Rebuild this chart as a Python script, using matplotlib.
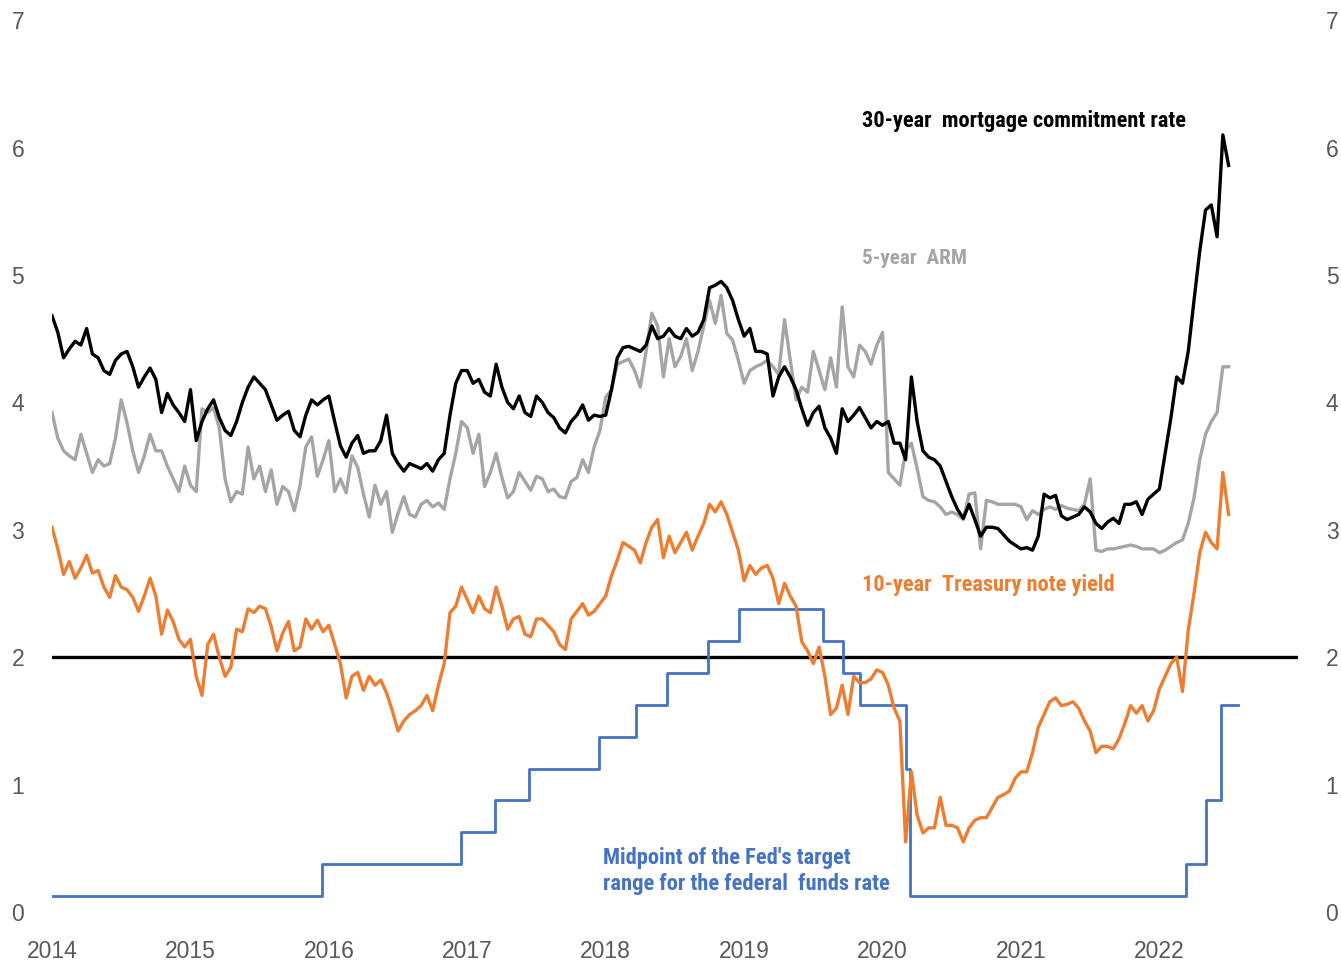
import matplotlib
matplotlib.use("Agg")
import matplotlib.pyplot as plt
from matplotlib import font_manager as fm
import numpy as np

# semi-monthly readings, Jan 2014 - Jul 2022 (24 per year)
mortgage_30y = [
    4.68,4.55,4.35,4.42,4.48,4.45,4.58,4.38,4.35,4.25,4.22,4.33,4.38,4.40,4.28,4.12,4.20,4.27,4.18,3.92,4.07,3.98,3.92,3.85,
    4.10,3.70,3.85,3.95,4.02,3.88,3.78,3.74,3.85,4.00,4.12,4.20,4.15,4.10,3.98,3.86,3.90,3.93,3.78,3.73,3.90,4.02,3.98,4.02,
    4.05,3.85,3.66,3.57,3.68,3.74,3.60,3.62,3.62,3.70,3.90,3.60,3.52,3.46,3.52,3.50,3.48,3.52,3.46,3.55,3.60,3.90,4.15,4.25,
    4.25,4.15,4.18,4.08,4.05,4.30,4.12,4.00,3.95,4.05,3.92,3.89,4.05,4.00,3.92,3.88,3.80,3.76,3.85,3.90,3.98,3.86,3.90,3.89,
    3.90,4.10,4.35,4.43,4.44,4.42,4.40,4.45,4.60,4.50,4.52,4.58,4.52,4.50,4.58,4.52,4.55,4.65,4.90,4.92,4.95,4.90,4.80,4.65,
    4.52,4.58,4.40,4.40,4.38,4.05,4.20,4.28,4.20,4.10,3.95,3.82,3.92,3.97,3.80,3.72,3.60,3.95,3.85,3.90,3.96,3.88,3.80,3.85,
    3.82,3.85,3.68,3.68,3.55,4.20,3.85,3.62,3.57,3.55,3.50,3.38,3.26,3.16,3.09,3.20,3.08,2.95,3.02,3.02,3.01,2.96,2.91,2.88,
    2.85,2.86,2.84,2.95,3.28,3.25,3.27,3.11,3.08,3.10,3.12,3.18,3.14,3.05,3.01,3.06,3.09,3.05,3.20,3.20,3.22,3.12,3.24,3.28,
    3.32,3.60,3.88,4.20,4.15,4.40,4.80,5.19,5.51,5.55,5.30,6.10,5.86]

arm_5y = [
    3.92,3.72,3.62,3.58,3.55,3.75,3.60,3.45,3.55,3.50,3.52,3.72,4.02,3.84,3.62,3.45,3.58,3.75,3.62,3.62,3.50,3.40,3.30,3.50,
    3.35,3.30,3.95,3.92,3.96,3.80,3.40,3.22,3.30,3.28,3.65,3.40,3.50,3.30,3.47,3.20,3.34,3.30,3.15,3.35,3.65,3.73,3.42,3.55,
    3.70,3.30,3.40,3.29,3.58,3.49,3.28,3.10,3.35,3.20,3.30,2.98,3.13,3.26,3.12,3.10,3.20,3.23,3.18,3.21,3.16,3.40,3.60,3.85,
    3.80,3.60,3.75,3.34,3.45,3.60,3.41,3.25,3.30,3.45,3.38,3.31,3.42,3.40,3.30,3.32,3.26,3.25,3.38,3.41,3.55,3.45,3.65,3.78,
    4.04,4.10,4.30,4.32,4.34,4.25,4.12,4.40,4.70,4.60,4.20,4.50,4.28,4.36,4.50,4.25,4.40,4.60,4.80,4.62,4.84,4.54,4.49,4.33,
    4.15,4.25,4.28,4.30,4.33,4.28,4.22,4.65,4.33,4.02,4.12,4.08,4.40,4.25,4.10,4.35,4.12,4.75,4.28,4.20,4.45,4.40,4.30,4.45,
    4.55,3.45,3.40,3.35,3.62,3.68,3.48,3.26,3.23,3.22,3.18,3.12,3.14,3.12,3.08,3.28,3.29,2.85,3.23,3.22,3.20,3.20,3.20,3.20,
    3.18,3.08,3.15,3.12,3.16,3.18,3.16,3.19,3.17,3.16,3.15,3.20,3.40,2.84,2.83,2.85,2.85,2.86,2.87,2.88,2.87,2.85,2.85,2.85,
    2.82,2.84,2.87,2.90,2.92,3.05,3.25,3.55,3.75,3.85,3.92,4.28,4.28]

treasury_10y = [
    3.02,2.85,2.65,2.75,2.62,2.70,2.80,2.66,2.68,2.55,2.47,2.64,2.55,2.53,2.47,2.36,2.48,2.62,2.48,2.18,2.37,2.28,2.14,2.08,
    2.14,1.85,1.70,2.10,2.18,2.00,1.85,1.92,2.22,2.20,2.38,2.35,2.40,2.38,2.24,2.05,2.19,2.28,2.05,2.08,2.30,2.22,2.29,2.20,
    2.25,2.10,1.95,1.68,1.85,1.88,1.74,1.85,1.78,1.82,1.72,1.58,1.42,1.50,1.55,1.58,1.62,1.70,1.58,1.78,1.95,2.35,2.40,2.55,
    2.45,2.35,2.48,2.38,2.35,2.55,2.40,2.22,2.30,2.32,2.18,2.16,2.30,2.30,2.25,2.20,2.10,2.06,2.30,2.36,2.42,2.33,2.36,2.42,
    2.48,2.64,2.76,2.90,2.87,2.84,2.74,2.90,3.02,3.08,2.78,2.95,2.82,2.90,2.98,2.84,2.95,3.05,3.20,3.14,3.22,3.12,2.98,2.84,
    2.60,2.72,2.65,2.70,2.72,2.62,2.42,2.58,2.48,2.40,2.12,2.05,1.95,2.08,1.85,1.55,1.60,1.78,1.55,1.85,1.80,1.80,1.83,1.90,
    1.88,1.78,1.60,1.50,0.55,1.10,0.76,0.62,0.66,0.66,0.90,0.68,0.68,0.66,0.55,0.66,0.72,0.74,0.74,0.82,0.90,0.92,0.95,1.05,
    1.10,1.10,1.25,1.45,1.55,1.65,1.68,1.62,1.63,1.65,1.60,1.50,1.42,1.25,1.30,1.30,1.28,1.36,1.48,1.62,1.56,1.62,1.50,1.58,
    1.75,1.85,1.95,2.00,1.73,2.21,2.50,2.82,2.98,2.90,2.85,3.45,3.12]

# Fed funds target midpoint (step changes)
fed_dates = [2014.0, 2015.95, 2016.955, 2017.2, 2017.445, 2017.955, 2018.22, 2018.44, 2018.74,
             2018.965, 2019.57, 2019.715, 2019.835, 2020.17, 2020.2, 2022.195, 2022.34, 2022.447, 2022.57]
fed_vals = [0.125, 0.375, 0.625, 0.875, 1.125, 1.375, 1.625, 1.875, 2.125,
            2.375, 2.125, 1.875, 1.625, 1.125, 0.125, 0.375, 0.875, 1.625, 1.625]

year_ticks = [2014, 2015, 2016, 2017, 2018, 2019, 2020, 2021, 2022]
y_ticks = [0, 1, 2, 3, 4, 5, 6, 7]

def t_axis(series):
    return 2014 + np.arange(len(series)) / 24.0

black = "#000000"
gray = "#A5A5A5"
orange = "#ED7D31"
blue = "#4472C4"

# pick a narrow font if one is installed, else plain Liberation Sans
installed = {f.name for f in fm.fontManager.ttflist}
narrow_font = "Liberation Sans"
for cand in ["Liberation Sans Narrow", "Arial Narrow", "Roboto Condensed", "Open Sans Condensed",
             "Noto Sans Condensed", "DejaVu Sans Condensed"]:
    if cand in installed:
        narrow_font = cand
        break
narrow = [narrow_font, "DejaVu Sans"]

fig = plt.figure(figsize=(13.41, 9.64), dpi=100)
ax = fig.add_axes([0.0388, 0.054, 0.929, 0.925])

ax.axhline(2, color=black, lw=2.4, zorder=1)
ax.plot(fed_dates, fed_vals, drawstyle="steps-post", color=blue, lw=2.0, zorder=2)
ax.plot(t_axis(arm_5y), arm_5y, color=gray, lw=2.4, zorder=3)
ax.plot(t_axis(mortgage_30y), mortgage_30y, color=black, lw=2.4, zorder=4)
ax.plot(t_axis(treasury_10y), treasury_10y, color=orange, lw=2.4, zorder=5)

ax.set_xlim(2014, 2023)
ax.set_ylim(0, 7)
ax.set_xticks(year_ticks)
ax.set_xticklabels([str(y) for y in year_ticks])
ax.set_yticks(y_ticks)
for s in ax.spines.values():
    s.set_visible(False)
ax.tick_params(axis="both", length=0, labelsize=16.5, labelcolor="#595959")
ax.tick_params(axis="y", pad=20, labelright=True)
ax.tick_params(axis="x", pad=20)
for lab in ax.get_yticklabels() + ax.get_xticklabels():
    lab.set_family(["Liberation Sans", "DejaVu Sans"])

labels = [
    (2019.85, 6.21, "30-year  mortgage commitment rate", black, 324),
    (2019.85, 5.13, "5-year  ARM", gray, 105),
    (2019.85, 2.57, "10-year  Treasury note yield", orange, 252),
    (2017.98, 0.32, "Midpoint of the Fed's target\nrange for the federal  funds rate", blue, 287),
]
renderer = fig.canvas.get_renderer()
for x, y, s, c, width_px in labels:
    t = ax.text(x, y, s, color=c, fontsize=16, fontweight="bold", family=narrow,
                va="center", ha="left", linespacing=1.25)
    w = t.get_window_extent(renderer).width
    t.set_fontsize(min(16 * width_px / w, 17))

fig.savefig("out.png", dpi=100)
